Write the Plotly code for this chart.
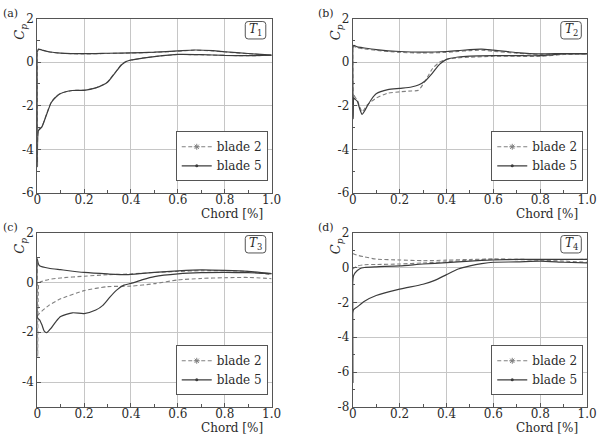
import plotly.graph_objects as go

# ---------------- data ----------------
panel_labels = ["(a)", "(b)", "(c)", "(d)"]
case_labels = ["1", "2", "3", "4"]
series_names = ["blade 2", "blade 5"]
x_ticks = [0, 0.2, 0.4, 0.6, 0.8, 1.0]
x_ticktext = ["0", "0.2", "0.4", "0.6", "0.8", "1.0"]
y_ranges = [[-6, 2], [-6, 2], [-5, 2], [-8, 2]]

# T1
a_ps_x = [0, 0.005, 0.02, 0.05, 0.1, 0.2, 0.3, 0.4, 0.5, 0.6, 0.67, 0.75, 0.8, 0.9, 1.0]
a5_ps = [0.45, 0.6, 0.56, 0.48, 0.42, 0.39, 0.41, 0.43, 0.46, 0.52, 0.56, 0.53, 0.48, 0.4, 0.32]
a2_ps = [0.45, 0.58, 0.55, 0.47, 0.41, 0.38, 0.40, 0.42, 0.45, 0.51, 0.55, 0.52, 0.47, 0.39, 0.31]
a_ss_x = [0, 0.001, 0.005, 0.02, 0.04, 0.06, 0.08, 0.1, 0.15, 0.2, 0.25, 0.28, 0.3, 0.33, 0.36,
          0.38, 0.4, 0.45, 0.5, 0.6, 0.7, 0.8, 0.9, 1.0]
a5_ss = [0.45, -4.8, -3.15, -2.97, -2.4, -1.85, -1.6, -1.44, -1.3, -1.29, -1.18, -1.05, -0.92,
         -0.52, -0.12, 0.03, 0.1, 0.19, 0.26, 0.36, 0.35, 0.31, 0.3, 0.32]
a2_ss = [0.45, -4.6, -3.1, -2.95, -2.38, -1.83, -1.58, -1.43, -1.3, -1.28, -1.17, -1.04, -0.9,
         -0.5, -0.1, 0.04, 0.1, 0.19, 0.26, 0.35, 0.34, 0.31, 0.3, 0.31]

# T2
b_ps_x = [0, 0.005, 0.02, 0.05, 0.1, 0.2, 0.3, 0.4, 0.45, 0.5, 0.55, 0.6, 0.7, 0.8, 0.9, 1.0]
b5_ps = [0.7, 0.77, 0.7, 0.65, 0.58, 0.49, 0.46, 0.49, 0.53, 0.58, 0.6, 0.55, 0.44, 0.38, 0.4, 0.4]
b2_ps = [0.65, 0.72, 0.66, 0.61, 0.54, 0.45, 0.42, 0.45, 0.49, 0.53, 0.55, 0.5, 0.41, 0.36, 0.39, 0.39]
b_ss_x = [0, 0.002, 0.005, 0.01, 0.02, 0.03, 0.04, 0.05, 0.06, 0.08, 0.1, 0.15, 0.2, 0.25, 0.28,
          0.31, 0.34, 0.37, 0.4, 0.45, 0.5, 0.6, 0.7, 0.8, 0.9, 1.0]
b5_ss = [0.7, -2.6, -1.65, -1.7, -1.8, -2.15, -2.4, -2.25, -2.05, -1.7, -1.45, -1.26, -1.2, -1.14,
         -1.05, -0.85, -0.5, -0.1, 0.13, 0.24, 0.28, 0.3, 0.3, 0.3, 0.38, 0.38]
b2_ss = [0.65, -1.9, -1.5, -1.6, -1.75, -2.05, -2.28, -2.15, -1.98, -1.8, -1.65, -1.42, -1.36,
         -1.32, -1.29, -0.85, -0.3, 0.0, 0.12, 0.2, 0.23, 0.27, 0.27, 0.27, 0.35, 0.37]

# T3
c5_ps_x = [0, 0.005, 0.01, 0.05, 0.1, 0.2, 0.3, 0.38, 0.45, 0.5, 0.6, 0.7, 0.8, 0.9, 1.0]
c5_ps = [0.96, 0.75, 0.67, 0.57, 0.51, 0.4, 0.34, 0.31, 0.36, 0.4, 0.46, 0.5, 0.48, 0.44, 0.35]
c5_ss_x = [0, 0.002, 0.01, 0.02, 0.03, 0.04, 0.06, 0.08, 0.1, 0.15, 0.2, 0.25, 0.28, 0.31, 0.34,
           0.37, 0.4, 0.45, 0.5, 0.6, 0.7, 0.8, 0.9, 1.0]
c5_ss = [0.96, -1.44, -1.5, -1.7, -1.96, -2.02, -1.83, -1.57, -1.37, -1.22, -1.25, -1.11, -0.92,
         -0.59, -0.3, -0.11, -0.04, 0.11, 0.23, 0.34, 0.39, 0.4, 0.39, 0.35]
c2_ps_x = [0, 0.002, 0.006, 0.01, 0.05, 0.1, 0.2, 0.3, 0.4, 0.5, 0.6, 0.7, 0.8, 0.9, 1.0]
c2_ps = [0.8, -3.0, -0.1, 0.0, 0.12, 0.18, 0.25, 0.31, 0.34, 0.4, 0.44, 0.47, 0.47, 0.44, 0.3]
c2_ss_x = [0, 0.01, 0.05, 0.1, 0.2, 0.3, 0.4, 0.5, 0.6, 0.7, 0.8, 0.9, 1.0]
c2_ss = [-1.35, -1.24, -0.92, -0.66, -0.33, -0.17, -0.15, -0.05, 0.1, 0.16, 0.19, 0.2, 0.15]

# T4
d2_ps_x = [0, 0.02, 0.05, 0.1, 0.2, 0.3, 0.4, 0.5, 0.6, 0.7, 0.8, 0.9, 1.0]
d2_ps = [0.8, 0.7, 0.61, 0.48, 0.43, 0.39, 0.42, 0.46, 0.48, 0.45, 0.42, 0.36, 0.3]
d2_ss_x = [0, 0.02, 0.05, 0.1, 0.2, 0.3, 0.4, 0.5, 0.6, 0.7, 0.8, 0.9, 1.0]
d2_ss = [-0.09, 0.09, 0.16, 0.17, 0.2, 0.26, 0.33, 0.42, 0.48, 0.47, 0.45, 0.45, 0.47]
d5_ps_x = [0, 0.003, 0.01, 0.03, 0.05, 0.1, 0.2, 0.3, 0.4, 0.5, 0.6, 0.7, 0.8, 0.9, 1.0]
d5_ps = [-0.87, -0.5, -0.31, -0.07, 0.0, 0.04, 0.09, 0.2, 0.28, 0.37, 0.43, 0.46, 0.47, 0.47, 0.47]
d5_ss_x = [0, 0.001, 0.003, 0.02, 0.05, 0.1, 0.2, 0.3, 0.35, 0.4, 0.45, 0.5, 0.55, 0.6, 0.7, 0.8,
           0.9, 1.0]
d5_ss = [-0.87, -6.6, -2.44, -2.26, -1.94, -1.61, -1.24, -0.96, -0.74, -0.41, -0.09, 0.09, 0.22,
         0.3, 0.32, 0.36, 0.3, 0.26]

# per panel: list of (blade index, x, y)
panel_curves = [
    [(0, a_ps_x, a2_ps), (0, a_ss_x, a2_ss), (1, a_ps_x, a5_ps), (1, a_ss_x, a5_ss)],
    [(0, b_ps_x, b2_ps), (0, b_ss_x, b2_ss), (1, b_ps_x, b5_ps), (1, b_ss_x, b5_ss)],
    [(0, c2_ps_x, c2_ps), (0, c2_ss_x, c2_ss), (1, c5_ps_x, c5_ps), (1, c5_ss_x, c5_ss)],
    [(0, d2_ps_x, d2_ps), (0, d2_ss_x, d2_ss), (1, d5_ps_x, d5_ps), (1, d5_ss_x, d5_ss)],
]

# ---------------- layout helpers ----------------
W, H = 604, 442
FONT = "DejaVu Serif"
TXT = "#2a2a2a"
AX = "#555555"


def px(v):
    return v / W


def py(v):
    return 1 - v / H


# plot-area pixel boxes (left, top, right, bottom)
boxes = [(34, 12, 274, 192), (357, 12, 597, 192), (34, 233, 274, 413), (357, 233, 597, 413)]

styles = [
    dict(color="#808080", width=1.1, dash="4px,2.5px"),
    dict(color="#3c3c3c", width=1.2, dash="solid"),
]
legend_markers = [
    dict(symbol="asterisk-open", size=5, color="#808080", line=dict(color="#808080", width=1)),
    dict(symbol="circle", size=3, color="#3c3c3c"),
]

fig = go.Figure()
layout = dict(
    width=W, height=H, margin=dict(l=0, r=0, t=0, b=0),
    paper_bgcolor="white", plot_bgcolor="white",
    font=dict(family=FONT, size=12, color=TXT),
    annotations=[], shapes=[],
)

for i in range(4):
    sfx = "" if i == 0 else str(i + 1)
    xa, ya = "x" + sfx, "y" + sfx
    lg = "legend" + sfx
    L, T, R, B = boxes[i]
    ymin, ymax = y_ranges[i]
    yticks = list(range(ymax, ymin - 1, -2))

    layout["xaxis" + sfx] = dict(
        domain=[px(L), px(R)], anchor=ya, range=[0, 1],
        tickvals=x_ticks, ticktext=x_ticktext,
        showgrid=True, gridcolor="#c6c6c6", gridwidth=1, zeroline=False,
        showline=True, mirror=True, linecolor=AX, linewidth=1,
        ticks="inside", ticklen=4, tickcolor=AX,
        minor=dict(ticks="inside", ticklen=2.5, dtick=0.1, tickcolor=AX, showgrid=False),
        tickfont=dict(family=FONT, size=12, color=TXT), fixedrange=True,
        ticklabelstandoff=-4,
    )
    layout["yaxis" + sfx] = dict(
        domain=[py(B), py(T)], anchor=xa, range=[ymin, ymax],
        tickvals=yticks, ticktext=[str(v) for v in yticks],
        showgrid=True, gridcolor="#c6c6c6", gridwidth=1, zeroline=False,
        showline=True, mirror=True, linecolor=AX, linewidth=1,
        ticks="inside", ticklen=4, tickcolor=AX,
        minor=dict(ticks="inside", ticklen=2.5, dtick=1, tickcolor=AX, showgrid=False),
        tickfont=dict(family=FONT, size=12, color=TXT), fixedrange=True,
    )

    for bi, xs, ys in panel_curves[i]:
        st = styles[bi]
        fig.add_trace(go.Scatter(
            x=xs, y=ys, xaxis=xa, yaxis=ya, mode="lines",
            line=dict(color=st["color"], width=st["width"], dash=st["dash"], shape="spline", smoothing=0.6),
            showlegend=False, hoverinfo="skip",
        ))
    for bi in range(2):
        st = styles[bi]
        fig.add_trace(go.Scatter(
            x=[None], y=[None], xaxis=xa, yaxis=ya, mode="lines+markers",
            name=series_names[bi], legend=lg,
            line=dict(color=st["color"], width=st["width"], dash=st["dash"]),
            marker=legend_markers[bi], showlegend=True,
        ))

    layout[lg] = dict(
        x=px(R - 4), y=py(B - 12), xanchor="right", yanchor="bottom",
        bgcolor="white", bordercolor=AX, borderwidth=1,
        font=dict(family=FONT, size=12, color=TXT),
        tracegroupgap=0, itemwidth=30, traceorder="normal",
    )

    # panel label
    layout["annotations"].append(dict(
        text=panel_labels[i], x=px(L - 27), y=py(T - 5), xref="paper", yref="paper",
        xanchor="center", yanchor="middle", showarrow=False,
        font=dict(family=FONT, size=11, color=TXT)))
    # C_p label
    layout["annotations"].append(dict(
        text="<i>C</i><sub><i>p</i></sub>", x=px(L - 17), y=py(T + 14), xref="paper", yref="paper",
        xanchor="center", yanchor="middle", textangle=-90, showarrow=False,
        font=dict(family=FONT, size=13, color=TXT)))
    # Chord label
    layout["annotations"].append(dict(
        text="Chord [%]", x=px(R - 7), y=py(B + 22), xref="paper", yref="paper",
        xanchor="right", yanchor="middle", showarrow=False,
        font=dict(family=FONT, size=12, color=TXT)))
    # T box
    bx0, bx1, by0, by1 = R - 27, R - 6, T + 3, T + 21
    r = 3
    path = (f"M {px(bx0 + r)},{py(by0)} L {px(bx1 - r)},{py(by0)} Q {px(bx1)},{py(by0)} {px(bx1)},{py(by0 + r)} "
            f"L {px(bx1)},{py(by1 - r)} Q {px(bx1)},{py(by1)} {px(bx1 - r)},{py(by1)} "
            f"L {px(bx0 + r)},{py(by1)} Q {px(bx0)},{py(by1)} {px(bx0)},{py(by1 - r)} "
            f"L {px(bx0)},{py(by0 + r)} Q {px(bx0)},{py(by0)} {px(bx0 + r)},{py(by0)} Z")
    layout["shapes"].append(dict(type="path", path=path, xref="paper", yref="paper",
                                 line=dict(color=AX, width=1), fillcolor="white", layer="above"))
    layout["annotations"].append(dict(
        text="<i>T</i><sub>" + case_labels[i] + "</sub>", x=px((bx0 + bx1) / 2), y=py((by0 + by1) / 2),
        xref="paper", yref="paper", xanchor="center", yanchor="middle", showarrow=False,
        font=dict(family=FONT, size=12, color=TXT)))

fig.update_layout(**layout)
fig.write_html("out.html")
